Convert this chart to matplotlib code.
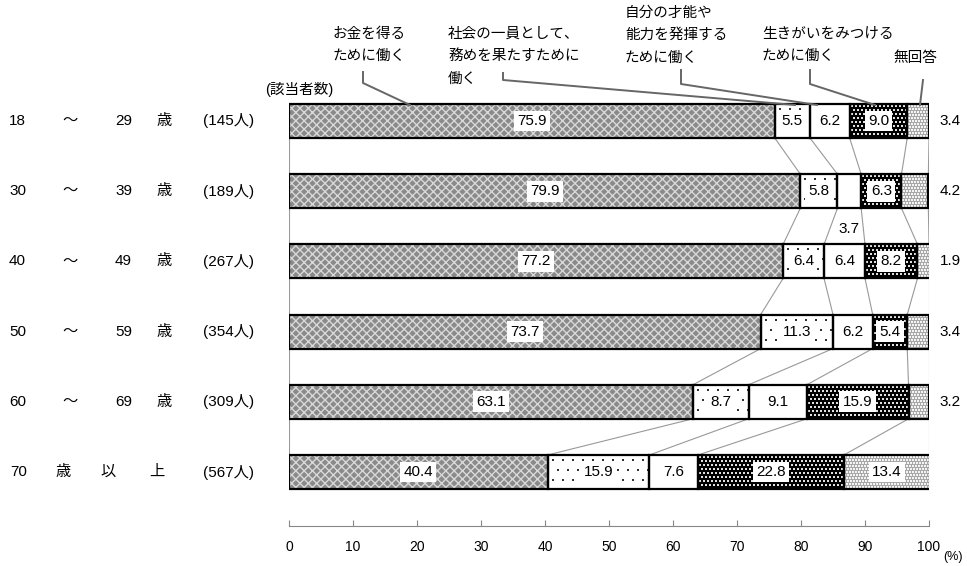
import matplotlib
matplotlib.use("Agg")
import matplotlib.pyplot as plt
import numpy as np

plt.rcParams['font.family'] = ['Liberation Sans', 'Noto Sans CJK JP', 'DejaVu Sans']

# ---- data ----
age_groups = [["18", "～", "29", "歳"],
              ["30", "～", "39", "歳"],
              ["40", "～", "49", "歳"],
              ["50", "～", "59", "歳"],
              ["60", "～", "69", "歳"],
              ["70", "歳", "以", "上"]]
counts = ["(145人)", "(189人)", "(267人)", "(354人)", "(309人)", "(567人)"]
categories = ["お金を得る\nために働く",
              "社会の一員として、\n務めを果たすために\n働く",
              "自分の才能や\n能力を発揮する\nために働く",
              "生きがいをみつける\nために働く",
              "無回答"]
money = [75.9, 79.9, 77.2, 73.7, 63.1, 40.4]
society = [5.5, 5.8, 6.4, 11.3, 8.7, 15.9]
talent = [6.2, 3.7, 6.4, 6.2, 9.1, 7.6]
purpose = [9.0, 6.3, 8.2, 5.4, 15.9, 22.8]
no_answer = [3.4, 4.2, 1.9, 3.4, 3.2, 13.4]
ticks = [0, 10, 20, 30, 40, 50, 60, 70, 80, 90, 100]

series = [money, society, talent, purpose, no_answer]

W, H = 967, 566
fig = plt.figure(figsize=(W / 100, H / 100), dpi=100)
x0_px, x1_px = 289, 929
ax = fig.add_axes([x0_px / W, 0, (x1_px - x0_px) / W, 1])
ax.set_xlim(0, 100)
ax.set_ylim(H, 0)
ax.axis('off')

px_per_unit = (x1_px - x0_px) / 100.0

# styles: facecolor, hatch, hatch colour, dot texture (spacing px, dot colour, size px)
styles = [dict(fc="#8a8a8a", hatch="xxxx", hc="#d8d8d8", dots=None),
          dict(fc="white", hatch=None, hc="white", dots=(10, "#333333", 1.4)),
          dict(fc="white", hatch=None, hc="white", dots=None),
          dict(fc="#000000", hatch=None, hc="black", dots=(4.0, "#e0e0e0", 1.6)),
          dict(fc="#a8a8a8", hatch=None, hc="#a8a8a8", dots=(3.0, "#f4f4f4", 1.4))]

row0, step, bh = 121, 70.2, 34
rows = [row0 + step * i for i in range(len(money))]

data = np.array(series)  # shape (5, 6)
cum = np.vstack([np.zeros(data.shape[1]), np.cumsum(data, axis=0)])

for s in range(len(series)):
    st = styles[s]
    bars = ax.barh(rows, data[s], left=cum[s], height=bh, color=st["fc"],
                   hatch=st["hatch"], edgecolor=st["hc"], linewidth=0, zorder=2)
    if st["dots"] is not None:
        sp, dc, dsz = st["dots"]
        for i, patch in enumerate(bars.patches):
            xl, xr = cum[s, i], cum[s, i] + data[s, i]
            yt, yb = rows[i] - bh / 2, rows[i] + bh / 2
            gy = np.arange(yt + sp / 2, yb, sp)
            xs_all, ys_all = [], []
            for k, yy in enumerate(gy):
                off = sp / 2 if k % 2 else 0
                gx_px = np.arange(xl * px_per_unit + sp / 2 + off, xr * px_per_unit, sp)
                xs_all.extend(gx_px / px_per_unit)
                ys_all.extend([yy] * len(gx_px))
            sc = ax.scatter(xs_all, ys_all, s=(dsz * 0.72) ** 2, marker="s", c=dc,
                            linewidths=0, zorder=2.5)
            sc.set_clip_path(patch)
    ax.barh(rows, data[s], left=cum[s], height=bh, fill=False,
            edgecolor="black", linewidth=1.6, zorder=3)

# connecting lines between bars
for i in range(len(rows) - 1):
    for b in range(cum.shape[0]):
        xa = min(cum[b, i], 100)
        xb = min(cum[b, i + 1], 100)
        ax.plot([xa, xb], [rows[i] + bh / 2, rows[i + 1] - bh / 2],
                color="#999999", lw=0.8, zorder=1)

box = dict(boxstyle="square,pad=0.22", fc="white", ec="none")
fs = 11
for i, y in enumerate(rows):
    for s in range(len(series)):
        v = data[s, i]
        xc = cum[s, i] + v / 2
        if s == 4 and v < 5:
            ax.text(103.3, y, f"{v:.1f}", ha="center", va="center", fontsize=fs, zorder=5)
        elif s == 2 and v < 4:
            ax.text(xc, y + 38, f"{v:.1f}", ha="center", va="center", fontsize=fs, zorder=5)
        else:
            ax.text(xc, y, f"{v:.1f}", ha="center", va="center", fontsize=fs,
                    bbox=box, zorder=5)

# left labels
for i, y in enumerate(rows):
    parts = age_groups[i]
    if i < 5:
        xs = [9, 70, 115, 164]
        ha = ["left", "center", "left", "center"]
    else:
        xs = [10, 63, 108, 157]
        ha = ["left", "center", "center", "center"]
    for p, xp, h in zip(parts, xs, ha):
        fig.text(xp / W, 1 - y / H, p, ha=h, va="center", fontsize=fs)
    fig.text(203 / W, 1 - y / H, counts[i], ha="left", va="center", fontsize=fs)

fig.text(333 / W, 1 - 89 / H, "(該当者数)", ha="right", va="center", fontsize=10.5)

# category labels & leaders
lab_pos = [(333, 27), (448, 27), (625, 6), (762, 27), (893, 51)]
for txt, (lx, ly) in zip(categories, lab_pos):
    fig.text(lx / W, 1 - ly / H, txt, ha="left", va="top", fontsize=10.5,
             linespacing=1.75)

def px2x(px):
    return (px - x0_px) / px_per_unit

leaders = [[(363, 72), (363, 83), (410, 105)],
           [(503, 73), (503, 80), (795, 105)],
           [(681, 70), (681, 84), (817, 105)],
           [(810, 70), (810, 84), (875, 105)],
           [(923, 80), (920, 105)]]
for pts in leaders:
    ax.plot([px2x(p[0]) for p in pts], [p[1] for p in pts], color="#666666", lw=1.4,
            zorder=4, clip_on=False)

# x axis
axis_y = 526
ax2 = fig.add_axes([x0_px / W, 1 - axis_y / H, (x1_px - x0_px) / W, 0.02])
ax2.set_xlim(0, 100)
ax2.set_yticks([])
for sp_ in ["top", "left", "right"]:
    ax2.spines[sp_].set_visible(False)
ax2.spines["bottom"].set_color("#888888")
ax2.patch.set_alpha(0)
ax2.set_xticks(ticks)
ax2.set_xticklabels([str(t) for t in ticks], fontsize=10)
ax2.tick_params(axis="x", direction="in", length=4, color="#888888", pad=10)
fig.text(953 / W, 1 - 557 / H, "(%)", ha="center", va="center", fontsize=9)

fig.savefig("out.png", dpi=100)
